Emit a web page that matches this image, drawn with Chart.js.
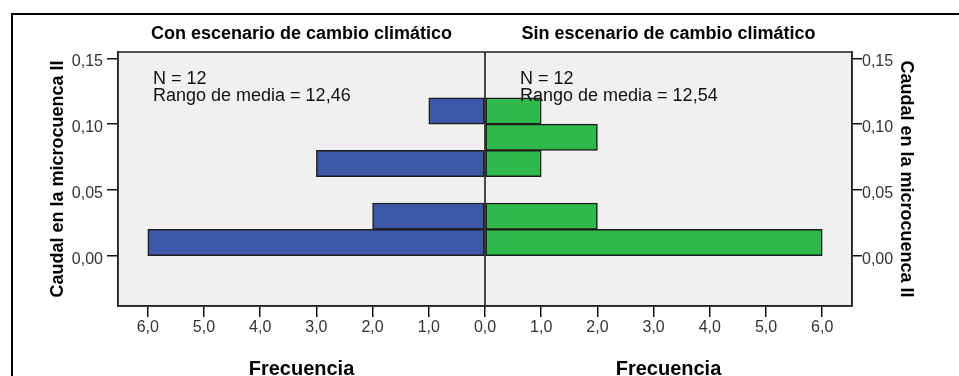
<!DOCTYPE html>
<html>
<head>
<meta charset="utf-8">
<script src="https://cdn.jsdelivr.net/npm/chart.js@4/dist/chart.umd.min.js"></script>
<style>
  html, body { margin: 0; padding: 0; background: #ffffff; }
  #wrap { position: relative; width: 959px; height: 376px; }
</style>
</head>
<body>
<div id="wrap"><canvas id="chart" width="959" height="376"></canvas></div>
<script>
// Histogram bins of "Caudal en la microcuenca II" (bin centres, width 0,02)
const binCenters = [0.01, 0.03, 0.05, 0.07, 0.09, 0.11];
// Frequencies per bin for each scenario
const conCambio = [6, 2, 0, 3, 0, 1];
const sinCambio = [6, 2, 0, 1, 2, 1];
// Tick values
const freqTicks = [-6, -5, -4, -3, -2, -1, 0, 1, 2, 3, 4, 5, 6];
const caudalTicks = [0, 0.05, 0.10, 0.15];
// Panel texts
const panelTitles = ['Con escenario de cambio climático', 'Sin escenario de cambio climático'];
const panelStats = [
  ['N = 12', 'Rango de media = 12,46'],
  ['N = 12', 'Rango de media = 12,54']
];
const xTitle = 'Frecuencia';
const yTitle = 'Caudal en la microcuenca II';

const FONT = "'Liberation Sans', Arial, sans-serif";
Chart.defaults.font.family = FONT;

const fmt = (v, d) => Math.abs(v).toFixed(d).replace('.', ',');

const pyramidPlugin = {
  id: 'pyramid',
  beforeDraw(chart) {
    const { ctx, chartArea: a } = chart;
    ctx.save();
    // outer frame
    ctx.fillStyle = '#000';
    ctx.fillRect(11, 13, 948, 2);
    ctx.fillRect(11, 13, 2, 376 - 13);
    // plot background
    ctx.fillStyle = '#f0f0f0';
    ctx.fillRect(a.left, a.top, a.right - a.left, a.bottom - a.top);
    ctx.restore();
  },
  afterDatasetsDraw(chart) {
    const { ctx, chartArea: a, scales } = chart;
    const x0 = scales.x.getPixelForValue(0);
    ctx.save();
    // centre line between both panels
    ctx.strokeStyle = '#111';
    ctx.lineWidth = 1.5;
    ctx.beginPath();
    ctx.moveTo(x0, a.top);
    ctx.lineTo(x0, a.bottom);
    ctx.stroke();
    // plot frame
    ctx.strokeStyle = '#222';
    ctx.lineWidth = 1.5;
    ctx.strokeRect(a.left, a.top, a.right - a.left, a.bottom - a.top);

    const centers = [(a.left + x0) / 2, (x0 + a.right) / 2];
    const starts = [a.left + 35, x0 + 35];
    ctx.fillStyle = '#000';
    ctx.textAlign = 'center';
    ctx.textBaseline = 'alphabetic';
    ctx.font = 'bold 18px ' + FONT;
    panelTitles.forEach((t, i) => ctx.fillText(t, centers[i], 39));
    ctx.font = 'bold 20px ' + FONT;
    centers.forEach(c => ctx.fillText(xTitle, c, 374.5));
    ctx.textAlign = 'left';
    ctx.fillStyle = '#111';
    ctx.font = '18px ' + FONT;
    panelStats.forEach((lines, i) => {
      ctx.fillText(lines[0], starts[i], 83.5);
      ctx.fillText(lines[1], starts[i], 101);
    });
    ctx.restore();
  }
};

const barStyle = {
  borderColor: '#1c1c1c',
  borderWidth: 1.5,
  borderSkipped: false,
  barPercentage: 1,
  categoryPercentage: 1,
  grouped: false
};

const yAxis = (position, tickLength, padding, titlePad, width) => ({
  type: 'linear',
  position,
  offset: false,
  min: -0.0383,
  max: 0.1548,
  afterBuildTicks: s => { s.ticks = caudalTicks.map(v => ({ value: v })); },
  afterFit: s => { s.width = width; },
  grid: { offset: false, drawOnChartArea: false, drawTicks: true, tickLength, tickColor: '#111', lineWidth: 1.5 },
  border: { display: true, color: '#222', width: 1.5 },
  ticks: { padding, labelOffset: 3.5, color: '#333', font: { size: 16 }, autoSkip: false, callback: v => fmt(v, 2) },
  title: { display: true, text: yTitle, color: '#000', font: { size: 18, weight: 'bold' }, padding: { top: titlePad } }
});

new Chart(document.getElementById('chart'), {
  type: 'bar',
  data: {
    datasets: [
      Object.assign({
        label: panelTitles[0],
        data: binCenters.map((c, i) => ({ x: -conCambio[i], y: c })),
        backgroundColor: '#3d57a9'
      }, barStyle),
      Object.assign({
        label: panelTitles[1],
        data: binCenters.map((c, i) => ({ x: sinCambio[i], y: c })),
        backgroundColor: '#2fb84b'
      }, barStyle)
    ]
  },
  options: {
    indexAxis: 'y',
    responsive: false,
    animation: false,
    layout: { padding: { top: 52, left: 0, right: 0, bottom: 0 } },
    plugins: { legend: { display: false }, tooltip: { enabled: false } },
    scales: {
      x: {
        type: 'linear',
        position: 'bottom',
        min: -6.53,
        max: 6.53,
        afterBuildTicks: s => { s.ticks = freqTicks.map(v => ({ value: v })); },
        afterFit: s => { s.height = 70; },
        grid: { drawOnChartArea: false, drawTicks: true, tickLength: 11, tickColor: '#111', lineWidth: 1.5 },
        border: { display: true, color: '#222', width: 1.5 },
        ticks: {
          padding: 1,
          color: '#333',
          font: { size: 16 },
          maxRotation: 0,
          autoSkip: false,
          callback: v => fmt(v, 1)
        }
      },
      y: yAxis('left', 11, 4, 47, 118),
      y2: yAxis('right', 10, 0, 42, 107)
    }
  },
  plugins: [pyramidPlugin]
});
</script>
</body>
</html>
